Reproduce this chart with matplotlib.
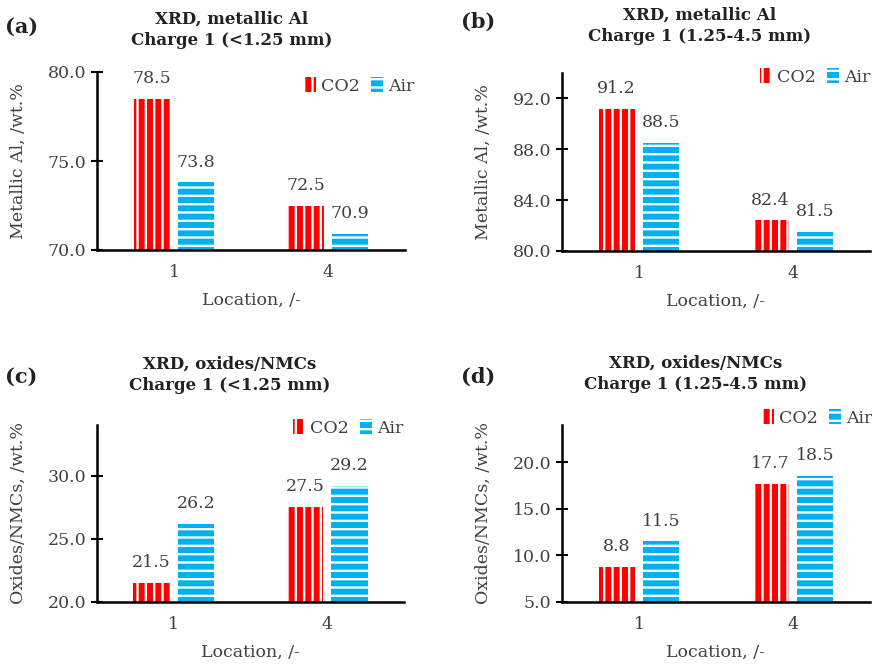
import matplotlib
matplotlib.use("Agg")
import matplotlib.pyplot as plt
from matplotlib.patches import Rectangle
import numpy as np

# Sample locations along the x axis
locations = ["1", "4"]

# Panel (a): metallic Al, <1.25 mm
al_fine_co2 = [78.5, 72.5]
al_fine_air = [73.8, 70.9]
# Panel (b): metallic Al, 1.25-4.5 mm
al_coarse_co2 = [91.2, 82.4]
al_coarse_air = [88.5, 81.5]
# Panel (c): oxides/NMCs, <1.25 mm
ox_fine_co2 = [21.5, 27.5]
ox_fine_air = [26.2, 29.2]
# Panel (d): oxides/NMCs, 1.25-4.5 mm
ox_coarse_co2 = [8.8, 17.7]
ox_coarse_air = [11.5, 18.5]

series_names = ["CO2", "Air"]

RED = "#FF0000"
BLUE = "#00B0F0"
TXT = "#404040"
FONT = "DejaVu Serif"

plt.rcParams["font.family"] = FONT
plt.rcParams["hatch.linewidth"] = 1.7

W, H = 872, 666
fig = plt.figure(figsize=(W / 100, H / 100), dpi=100)


def px_axes(left, top, right, bottom):
    return fig.add_axes([left / W, 1 - bottom / H, (right - left) / W, (bottom - top) / H])


def panel(ax, co2, air, ylim, yticks, ylabel, legend_xy):
    x = np.arange(len(locations))
    bw = 0.235
    off = 0.145
    ax.bar(x - off, co2, bw, color=RED, edgecolor="white", linewidth=0, hatch="||")
    ax.bar(x + off, air, bw, color=BLUE, edgecolor="white", linewidth=0, hatch="--")
    for xi, v in zip(x - off, co2):
        ax.annotate(f"{v:.1f}", (xi, v), xytext=(0, 8.5), textcoords="offset points",
                    ha="center", va="bottom", fontsize=12.5, color=TXT)
    for xi, v in zip(x + off, air):
        ax.annotate(f"{v:.1f}", (xi, v), xytext=(0, 8.5), textcoords="offset points",
                    ha="center", va="bottom", fontsize=12.5, color=TXT)
    ax.set_xlim(-0.5, 1.5)
    ax.set_ylim(*ylim)
    ax.set_yticks(yticks)
    ax.set_yticklabels([f"{t:.1f}" for t in yticks], fontsize=12.5, color=TXT)
    ax.set_xticks(x)
    ax.set_xticklabels(locations, fontsize=12.5, color=TXT)
    ax.tick_params(axis="x", length=0, pad=10)
    ax.tick_params(axis="y", direction="inout", length=9, width=1.5, pad=3)
    for s in ("top", "right"):
        ax.spines[s].set_visible(False)
    for s in ("left", "bottom"):
        ax.spines[s].set_linewidth(1.8)
    ax.set_xlabel("Location, /-", fontsize=12.5, color=TXT, labelpad=8)
    ax.set_ylabel(ylabel, fontsize=12.5, color=TXT, labelpad=15)
    handles = [Rectangle((0, 0), 1, 1, facecolor=RED, edgecolor="white", linewidth=0, hatch="||"),
               Rectangle((0, 0), 1, 1, facecolor=BLUE, edgecolor="white", linewidth=0, hatch="--")]
    ax.legend(handles, series_names, loc="center left", bbox_to_anchor=legend_xy,
              ncol=2, frameon=False, fontsize=12.5, handlelength=0.7, handleheight=0.9,
              handletextpad=0.3, columnspacing=0.6, labelcolor=TXT,
              bbox_transform=fig.transFigure, borderaxespad=0, borderpad=0)


ax_a = px_axes(97, 72, 405, 250)
panel(ax_a, al_fine_co2, al_fine_air, (70, 80), [70, 75, 80], "Metallic Al, /wt.%",
      (304 / W, 1 - 86 / H))
ax_b = px_axes(562, 73, 870, 251)
panel(ax_b, al_coarse_co2, al_coarse_air, (80, 94), [80, 84, 88, 92], "Metallic Al, /wt.%",
      (760 / W, 1 - 77 / H))
ax_c = px_axes(97, 425, 404, 602)
panel(ax_c, ox_fine_co2, ox_fine_air, (20, 34), [20, 25, 30], "Oxides/NMCs, /wt.%",
      (293 / W, 1 - 428 / H))
ax_d = px_axes(562, 425, 870, 602)
panel(ax_d, ox_coarse_co2, ox_coarse_air, (5, 24), [5, 10, 15, 20], "Oxides/NMCs, /wt.%",
      (762 / W, 1 - 418 / H))

titles = [
    ("(a)", 5, 27, "XRD, metallic Al\nCharge 1 (<1.25 mm)", 232, 30),
    ("(b)", 461, 22, "XRD, metallic Al\nCharge 1 (1.25-4.5 mm)", 700, 26),
    ("(c)", 5, 377, "XRD, oxides/NMCs\nCharge 1 (<1.25 mm)", 230, 375),
    ("(d)", 461, 377, "XRD, oxides/NMCs\nCharge 1 (1.25-4.5 mm)", 696, 374),
]
for lab, lx, ly, title, tx, ty in titles:
    fig.text(lx / W, 1 - ly / H, lab, fontsize=15, fontweight="bold", color="#222222",
             ha="left", va="center")
    fig.text(tx / W, 1 - ty / H, title, fontsize=12, fontweight="bold", color="#222222",
             ha="center", va="center", linespacing=1.35)

fig.savefig("out.png", dpi=100, facecolor="white")
